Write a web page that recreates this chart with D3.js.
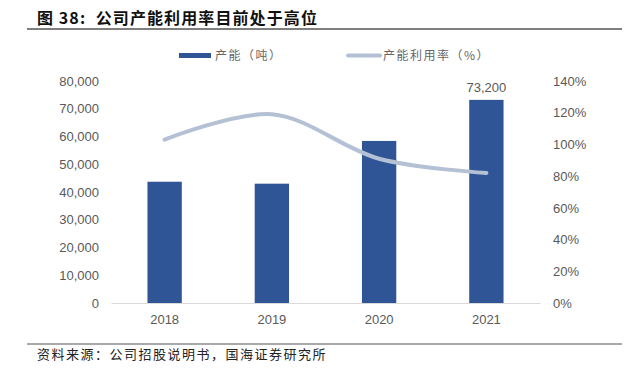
<!DOCTYPE html>
<html><head><meta charset="utf-8">
<script src="https://cdn.jsdelivr.net/npm/d3@7"></script>
<style>body{margin:0;background:#fff}svg{display:block}</style>
</head><body>
<svg id="c" width="641" height="371"></svg>
<script>
const categories = ["2018", "2019", "2020", "2021"];
const capacity = [43700, 43000, 58400, 73200];
const utilization = [103, 119, 91, 82];
const leftTicks = [0, 10000, 20000, 30000, 40000, 50000, 60000, 70000, 80000];
const rightTicks = [0, 20, 40, 60, 80, 100, 120, 140];
const labeledIndex = [3];

const svg = d3.select("#c");
const plot = {l: 111, r: 540, t: 81, b: 303};
const x = d3.scaleBand().domain(categories).range([plot.l, plot.r]).paddingInner(0.68).paddingOuter(0.34);
const yL = d3.scaleLinear().domain([0, 80000]).range([plot.b, plot.t]);
const yR = d3.scaleLinear().domain([0, 140]).range([plot.b, plot.t]);
const barColor = "#2F5597", lineColor = "#B4C0D4", txt = "#595959";
const sans = "'Liberation Sans', Arial, sans-serif";
const cjk = "'Noto Sans CJK SC', sans-serif";

// title
svg.append("text").attr("x", 37).attr("y", 24).attr("font-family", cjk).attr("font-weight", "bold")
  .attr("font-size", 16).attr("fill", "#111").attr("letter-spacing", 1.1).attr("xml:space", "preserve")
  .text("图 38:  公司产能利用率目前处于高位");
svg.append("line").attr("x1", 27).attr("x2", 622).attr("y1", 29).attr("y2", 29).attr("stroke", "#555").attr("stroke-width", 1.3);

// legend
svg.append("rect").attr("x", 179).attr("y", 53).attr("width", 32).attr("height", 5).attr("fill", barColor);
svg.append("text").attr("x", 215).attr("y", 60).attr("font-family", cjk).attr("font-size", 12).attr("fill", "#666").attr("letter-spacing", 1.5).text("产能（吨）");
svg.append("line").attr("x1", 348).attr("x2", 380).attr("y1", 55.5).attr("y2", 55.5).attr("stroke", lineColor).attr("stroke-width", 4).attr("stroke-linecap", "round");
svg.append("text").attr("x", 383).attr("y", 60).attr("font-family", cjk).attr("font-size", 12).attr("fill", "#666").attr("letter-spacing", 1.5).text("产能利用率（%）");

// axes
const axL = svg.append("g").attr("transform", `translate(${plot.l},0)`)
  .call(d3.axisLeft(yL).tickValues(leftTicks).tickSize(0).tickPadding(12).tickFormat(d3.format(",")));
axL.select(".domain").remove();
axL.selectAll("text").attr("font-family", sans).attr("font-size", 13).attr("fill", txt);

const axR = svg.append("g").attr("transform", `translate(${plot.r},0)`)
  .call(d3.axisRight(yR).tickValues(rightTicks).tickSize(0).tickPadding(13).tickFormat(d => d + "%"));
axR.select(".domain").remove();
axR.selectAll("text").attr("font-family", sans).attr("font-size", 13).attr("fill", txt);

// bars
svg.append("g").selectAll("rect").data(capacity).join("rect")
  .attr("x", (d, i) => x(categories[i])).attr("width", x.bandwidth())
  .attr("y", d => yL(d)).attr("height", d => yL(0) - yL(d)).attr("fill", barColor);

const axB = svg.append("g").attr("transform", `translate(0,${plot.b})`)
  .call(d3.axisBottom(x).tickSize(0).tickPadding(12));
axB.select(".domain").attr("stroke", "#D9D9D9").attr("stroke-width", 1);
axB.selectAll("text").attr("font-family", sans).attr("font-size", 13).attr("fill", txt);

// data label
svg.append("g").selectAll("text").data(labeledIndex).join("text")
  .attr("x", i => x(categories[i]) + x.bandwidth() / 2).attr("y", i => yL(capacity[i]) - 8)
  .attr("text-anchor", "middle").attr("font-family", sans).attr("font-size", 13).attr("fill", txt)
  .text(i => d3.format(",")(capacity[i]));

// line
const line = d3.line().x((d, i) => x(categories[i]) + x.bandwidth() / 2).y(d => yR(d)).curve(d3.curveCatmullRom.alpha(0.5));
svg.append("path").datum(utilization).attr("d", line).attr("fill", "none")
  .attr("stroke", lineColor).attr("stroke-width", 4).attr("stroke-linecap", "round");

// source
svg.append("line").attr("x1", 27).attr("x2", 622).attr("y1", 344).attr("y2", 344).attr("stroke", "#555").attr("stroke-width", 1);
svg.append("text").attr("x", 37).attr("y", 359).attr("font-family", cjk).attr("font-size", 13).attr("fill", "#222").attr("letter-spacing", 1.5)
  .text("资料来源：公司招股说明书，国海证券研究所");
</script>
</body></html>
